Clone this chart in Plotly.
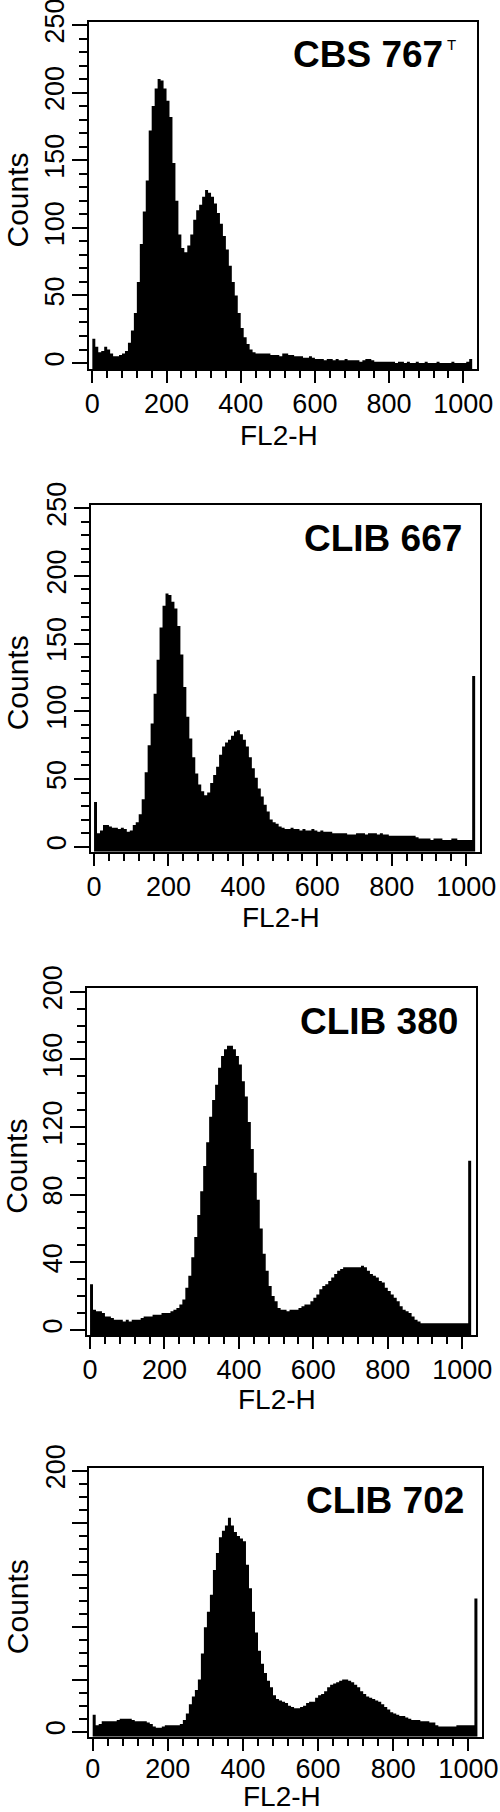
import plotly.graph_objects as go

# ---------------- data ----------------
BIN = 8
N_BINS = 128
bin_left = [BIN * i for i in range(N_BINS)]   # FL2-H channel, left edge of each bin

strain_labels = ["CBS 767", "CLIB 667", "CLIB 380", "CLIB 702"]
type_strain_mark = "T"

cbs_767 = [18, 12, 8, 9, 12, 10, 7, 5, 5, 6,
           7, 9, 15, 24, 37, 60, 88, 112, 135, 172,
           190, 203, 210, 209, 203, 194, 182, 148, 120, 95,
           85, 82, 87, 95, 106, 113, 117, 123, 128, 126,
           123, 118, 111, 103, 94, 84, 72, 60, 50, 37,
           26, 19, 14, 10, 8, 7, 7, 7, 7, 7,
           6, 6, 6, 5, 7, 7, 6, 6, 5, 5,
           5, 4, 4, 5, 4, 3, 3, 3, 2, 3,
           3, 2, 3, 2, 2, 3, 2, 2, 2, 2,
           1, 2, 3, 3, 2, 1, 1, 1, 1, 1,
           1, 1, 0, 1, 1, 0, 1, 0, 0, 1,
           0, 0, 1, 0, 0, 0, 1, 0, 0, 0,
           0, 1, 0, 0, 0, 0, 1, 3]

clib_667 = [33, 10, 12, 16, 16, 15, 14, 14, 13, 14,
            13, 11, 12, 16, 18, 24, 35, 55, 75, 91,
            113, 138, 162, 178, 187, 186, 181, 176, 163, 142,
            118, 96, 80, 66, 54, 46, 41, 38, 40, 47,
            53, 59, 68, 74, 77, 79, 82, 85, 86, 83,
            79, 74, 66, 58, 51, 43, 37, 31, 26, 20,
            18, 17, 15, 14, 13, 13, 14, 13, 13, 12,
            13, 12, 12, 13, 12, 11, 12, 11, 11, 11,
            10, 10, 10, 10, 10, 9, 9, 9, 10, 10,
            10, 9, 10, 10, 10, 9, 10, 9, 9, 8,
            8, 8, 8, 8, 8, 8, 8, 8, 7, 6,
            6, 6, 6, 5, 6, 6, 6, 5, 5, 5,
            6, 6, 5, 5, 5, 5, 5, 126]

clib_380 = [27, 12, 11, 11, 10, 8, 8, 7, 6, 6,
            6, 5, 6, 5, 6, 6, 6, 7, 8, 8,
            8, 9, 9, 9, 10, 10, 10, 11, 12, 13,
            15, 18, 25, 32, 43, 55, 68, 82, 97, 111,
            126, 136, 145, 155, 162, 166, 168, 168, 166, 162,
            157, 147, 138, 123, 107, 93, 77, 60, 45, 35,
            26, 20, 17, 13, 12, 12, 11, 12, 12, 12,
            13, 14, 15, 15, 17, 19, 21, 24, 26, 27,
            29, 31, 33, 35, 36, 37, 37, 37, 37, 37,
            37, 38, 37, 35, 33, 32, 31, 29, 28, 25,
            23, 21, 19, 17, 14, 12, 11, 10, 8, 6,
            5, 4, 4, 4, 4, 4, 4, 4, 4, 4,
            4, 4, 4, 4, 4, 4, 4, 100]

clib_702 = [13, 5, 6, 8, 8, 8, 8, 8, 9, 10,
            10, 10, 10, 9, 8, 8, 8, 8, 7, 6,
            4, 3, 3, 4, 5, 5, 5, 5, 5, 6,
            9, 14, 21, 27, 32, 40, 60, 80, 92, 105,
            124, 137, 149, 154, 158, 164, 158, 153, 150, 148,
            146, 128, 110, 92, 76, 62, 52, 45, 39, 34,
            28, 25, 24, 23, 22, 20, 19, 18, 18, 19,
            20, 22, 23, 23, 26, 28, 29, 31, 34, 36,
            37, 38, 39, 40, 40, 39, 38, 36, 34, 31,
            29, 27, 26, 25, 24, 23, 21, 19, 17, 15,
            14, 13, 12, 12, 11, 10, 9, 9, 9, 8,
            8, 8, 7, 7, 5, 4, 4, 4, 4, 4,
            4, 5, 5, 5, 5, 5, 5, 102]

series = [cbs_767, clib_667, clib_380, clib_702]

x_tickvals = [0, 200, 400, 600, 800, 1000]
y_tickvals = [[0, 50, 100, 150, 200, 250],
              [0, 50, 100, 150, 200, 250],
              [0, 40, 80, 120, 160, 200],
              [0, 40, 80, 120, 160, 200]]
y_ticktext = [["0", "50", "100", "150", "200", "250"],
              ["0", "50", "100", "150", "200", "250"],
              ["0", "40", "80", "120", "160", "200"],
              ["0", "", "", "", "", "200"]]
x_title = "FL2-H"
y_title = "Counts"

# ---------------- layout (pixels) ----------------
W, H = 500, 1812
# left, right, top, bottom of each panel frame
frames = [(89, 477, 22, 369),
          (90.7, 480, 505, 851.7),
          (86.7, 476, 988.3, 1335),
          (89.3, 482.3, 1467.7, 1736.7)]
y_ranges = [(-4.4, 252.2), (-3.7, 252.4), (-3.0, 202.0), (-3.8, 202.3)]
X_RANGE = [-9, 1037]
x_title_offset = [66, 66, 64, 59.3]
x_label_standoff = [-2, -2, -2, -5]

SANS = "Liberation Sans, Arial, Helvetica, sans-serif"
TICK_SIZE = 27
XTITLE_SIZE = 28
YTITLE_SIZE = 30


def px(x):
    return x / W


def py(y):
    return 1 - y / H


fig = go.Figure()
annotations = []
layout = {}

for k, vals in enumerate(series):
    left, right, top, bottom = frames[k]
    y0 = y_ranges[k][0]
    xs = [bin_left[0]]
    ys = [y0]
    for b, v in zip(bin_left, vals):
        xs += [b, b + BIN]
        ys += [v, v]
    xs.append(bin_left[-1] + BIN)
    ys.append(y0)
    sfx = "" if k == 0 else str(k + 1)
    fig.add_trace(go.Scatter(
        x=xs, y=ys, mode="lines", fill="toself", fillcolor="black",
        line=dict(width=0, color="black"), hoverinfo="skip", showlegend=False,
        xaxis="x" + sfx, yaxis="y" + sfx))

    layout["xaxis" + sfx] = dict(
        domain=[px(left), px(right)], anchor="y" + sfx, range=X_RANGE,
        automargin=False, ticklabeloverflow="allow",
        ticklabelstandoff=x_label_standoff[k],
        tickmode="array", tickvals=x_tickvals,
        ticks="outside", ticklen=12, tickwidth=2, tickcolor="black",
        minor=dict(tickmode="linear", tick0=0, dtick=40, ticks="outside",
                   ticklen=7, tickwidth=2, tickcolor="black", showgrid=False),
        showline=True, mirror=True, linewidth=2, linecolor="black",
        showgrid=False, zeroline=False,
        tickfont=dict(family=SANS, size=TICK_SIZE, color="black"),
        fixedrange=True)
    layout["yaxis" + sfx] = dict(
        domain=[py(bottom), py(top)], anchor="x" + sfx, range=list(y_ranges[k]),
        automargin=False, ticklabeloverflow="allow",
        tickmode="array", tickvals=y_tickvals[k], ticktext=y_ticktext[k],
        tickangle=-90, ticklabelstandoff=-3,
        ticks="outside", ticklen=15, tickwidth=2, tickcolor="black",
        minor=dict(tickmode="linear", tick0=0, dtick=10, ticks="outside",
                   ticklen=8, tickwidth=2, tickcolor="black", showgrid=False),
        showline=True, mirror=True, linewidth=2, linecolor="black",
        showgrid=False, zeroline=False,
        tickfont=dict(family=SANS, size=TICK_SIZE, color="black"),
        fixedrange=True)

    # axis titles
    annotations.append(dict(
        text=x_title, xref="paper", yref="paper",
        x=px((left + right) / 2 - 4), y=py(bottom + x_title_offset[k]),
        xanchor="center", yanchor="middle", showarrow=False, borderpad=0,
        font=dict(family=SANS, size=XTITLE_SIZE, color="black")))
    annotations.append(dict(
        text=y_title, xref="paper", yref="paper",
        x=px(17), y=py((top + bottom) / 2 + 5), textangle=-90,
        xanchor="center", yanchor="middle", showarrow=False, borderpad=0,
        font=dict(family=SANS, size=YTITLE_SIZE, color="black")))
    # strain label
    lab_right = right - 32 if k == 0 else right - 16
    annotations.append(dict(
        text="<b>" + strain_labels[k] + "</b>", xref="paper", yref="paper",
        x=px(lab_right), y=py(top + 33), xanchor="right", yanchor="middle",
        showarrow=False, font=dict(family=SANS, size=37, color="black")))
    if k == 0:
        annotations.append(dict(
            text=type_strain_mark, xref="paper", yref="paper",
            x=px(lab_right + 6), y=py(top + 23), xanchor="center", yanchor="middle",
            showarrow=False, font=dict(family=SANS, size=15, color="black")))

fig.update_layout(
    width=W, height=H, margin=dict(l=0, r=0, t=0, b=0, pad=0),
    paper_bgcolor="white", plot_bgcolor="white",
    showlegend=False, annotations=annotations, **layout)

fig.write_html("out.html", config={"displayModeBar": False},
               post_script="document.body.style.margin='0px';")
